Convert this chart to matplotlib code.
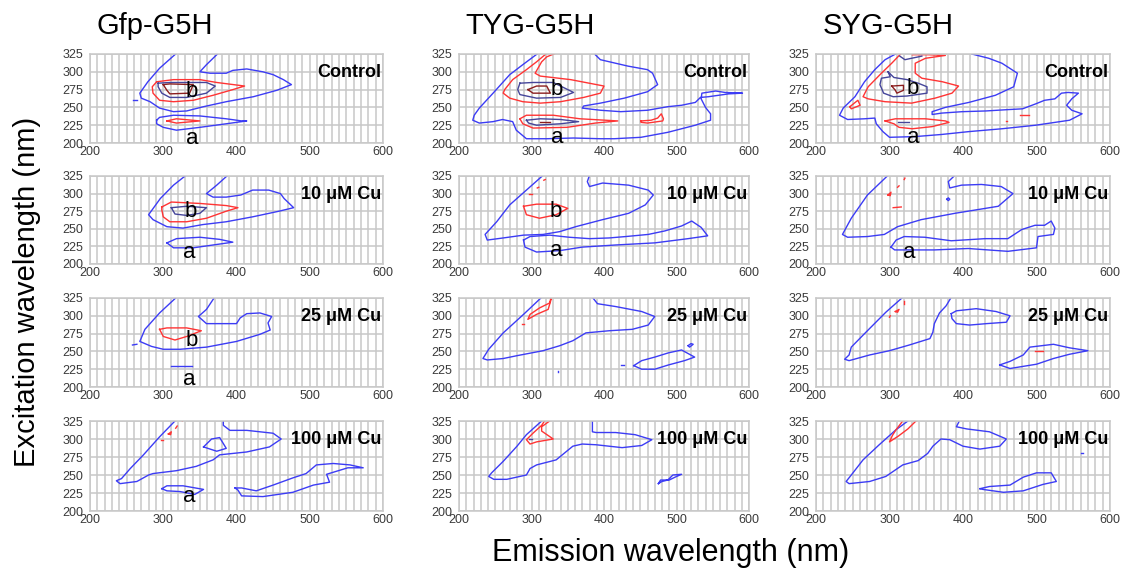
import matplotlib.pyplot as plt
from matplotlib.ticker import MultipleLocator

plt.rcParams['font.family'] = ['Liberation Sans', 'DejaVu Sans']

SAMPLES = ['Gfp-G5H', 'TYG-G5H', 'SYG-G5H']
TREATMENTS = ['Control', '10 μM Cu', '25 μM Cu', '100 μM Cu']

# contour traces as (emission nm, excitation nm)
# --- control ---
gfp_ctrl_outer = [(318, 326), (295, 305), (279, 286), (268, 270), (270, 263), (282, 258), (295, 249), (314, 244),
                  (332, 245), (355, 251), (386, 258), (423, 265), (455, 274), (475, 282), (464, 289), (450, 296),
                  (436, 300), (414, 304), (395, 302), (386, 298), (364, 298), (350, 300), (359, 310), (375, 326)]
gfp_ctrl_dash = [(259, 260), (264, 260)]
gfp_ctrl_b_red = [(291, 286), (314, 289), (350, 289), (373, 285), (411, 280), (395, 275), (368, 267), (341, 260),
                  (314, 258), (295, 260), (286, 270), (285, 279)]
gfp_ctrl_b_navy = [(293, 284), (309, 285), (359, 285), (371, 280), (359, 270), (332, 264), (309, 264), (298, 270),
                   (293, 279)]
gfp_ctrl_b_maroon = [(300, 282), (309, 283), (341, 282), (336, 270), (309, 269), (305, 274)]
gfp_ctrl_a_blue = [(291, 232), (295, 236), (314, 239), (350, 238), (386, 234), (407, 231), (414, 231), (407, 230),
                   (386, 227), (350, 222), (318, 218), (300, 222), (291, 227)]
gfp_ctrl_a_red = [(305, 231), (318, 234), (350, 231), (318, 228)]

tyg_ctrl_outer = [(309, 326), (288, 310), (270, 296), (247, 270), (228, 249), (221, 239), (219, 232), (228, 228),
                  (247, 230), (260, 233), (274, 230), (279, 218), (293, 206), (321, 206), (358, 207), (395, 206),
                  (414, 206), (451, 208), (488, 215), (526, 225), (547, 232), (547, 241), (540, 250), (534, 262),
                  (535, 270), (554, 273), (567, 271), (591, 270), (572, 269), (544, 265), (533, 264), (526, 257),
                  (507, 253), (488, 251), (460, 246), (423, 244), (395, 246), (370, 249), (372, 252), (395, 256),
                  (428, 263), (460, 272), (474, 282), (467, 298), (460, 303), (433, 308), (395, 317), (388, 324)]
tyg_ctrl_b_red = [(333, 326), (321, 321), (314, 314), (305, 298), (312, 294), (354, 289), (400, 280), (395, 270),
                  (372, 264), (340, 258), (312, 256), (288, 258), (270, 263), (261, 270), (263, 275), (274, 289),
                  (293, 303), (307, 314), (321, 326)]
tyg_ctrl_b_navy = [(284, 284), (302, 285), (330, 285), (358, 271), (340, 264), (307, 263), (284, 268), (281, 275)]
tyg_ctrl_b_maroon = [(295, 275), (307, 280), (321, 280), (326, 270), (302, 270)]
tyg_ctrl_a_red = [(284, 234), (293, 239), (330, 239), (367, 234), (419, 231), (388, 228), (349, 222), (302, 221),
                  (288, 227)]
tyg_ctrl_a_navy = [(293, 232), (312, 234), (340, 233), (365, 230), (340, 227), (307, 225), (296, 228)]
tyg_ctrl_a_maroon = [(312, 230), (326, 230)]
tyg_ctrl_side_red = [(451, 231), (465, 232), (474, 235), (479, 241), (482, 234), (481, 231), (460, 228), (451, 229)]

syg_ctrl_outer = [(310, 326), (294, 317), (280, 303), (266, 286), (253, 265), (237, 249), (232, 239), (243, 233),
                  (266, 234), (280, 235), (282, 227), (291, 216), (300, 208), (335, 209), (371, 212), (408, 216),
                  (453, 220), (499, 225), (545, 232), (562, 241), (548, 246), (541, 253), (548, 262), (557, 270),
                  (543, 271), (534, 270), (525, 262), (511, 260), (499, 255), (481, 248), (463, 247), (431, 245),
                  (399, 244), (371, 242), (358, 240), (358, 244), (376, 250), (408, 257), (444, 267), (469, 279),
                  (474, 298), (453, 312), (435, 319), (412, 325)]
syg_ctrl_b_red = [(316, 326), (303, 312), (289, 298), (271, 279), (264, 265), (271, 262), (294, 258), (330, 256),
                  (362, 263), (385, 270), (394, 280), (372, 286), (344, 291), (335, 298), (335, 312), (349, 319),
                  (376, 323), (353, 324), (331, 324)]
syg_ctrl_b_navy = [(298, 300), (301, 293), (289, 291), (287, 282), (292, 270), (305, 265), (324, 266), (351, 270),
                   (351, 279), (339, 284), (324, 289), (306, 292)]
syg_ctrl_top_navy = [(314, 322), (321, 317), (330, 319), (344, 322)]
syg_ctrl_b_maroon = [(303, 280), (319, 281), (319, 274), (310, 270), (308, 274)]
syg_ctrl_a_red = [(294, 231), (308, 234), (349, 234), (376, 231), (381, 229), (358, 223), (331, 220), (313, 222),
                  (306, 227)]
syg_ctrl_a_navy = [(311, 230), (327, 230)]
syg_ctrl_left_red = [(246, 251), (257, 260), (260, 253), (248, 248)]
syg_ctrl_right_red = [(478, 240), (490, 240)]
syg_ctrl_dot_red = [(458, 231), (460, 231)]

# --- 10 uM Cu ---
gfp_10_outer = [(331, 326), (314, 312), (296, 293), (280, 270), (286, 263), (305, 253), (327, 251), (354, 256),
                (386, 260), (422, 267), (458, 275), (478, 280), (472, 286), (465, 293), (460, 300), (444, 305),
                (422, 305), (406, 298), (386, 295), (368, 295), (359, 300), (373, 312), (388, 326)]
gfp_10_b_red = [(298, 281), (311, 288), (350, 286), (386, 283), (402, 280), (386, 275), (359, 265), (332, 260),
                (309, 260), (300, 267), (298, 277)]
gfp_10_b_navy = [(311, 280), (332, 282), (359, 280), (350, 272), (332, 269), (316, 271)]
gfp_10_a_blue = [(305, 230), (318, 236), (350, 238), (377, 235), (395, 231), (368, 227), (341, 223), (314, 223)]

tyg_10_outer = [(316, 326), (293, 305), (270, 284), (252, 260), (236, 242), (239, 234), (261, 237), (289, 241),
                (316, 242), (339, 246), (361, 253), (398, 263), (434, 272), (457, 284), (468, 298), (461, 305),
                (434, 312), (398, 315), (380, 310), (377, 317), (380, 326)]
tyg_10_a_blue = [(289, 234), (298, 239), (325, 241), (352, 238), (380, 236), (407, 237), (430, 239), (461, 242),
                 (484, 247), (507, 254), (521, 261), (534, 252), (543, 240), (516, 236), (470, 230), (416, 227),
                 (370, 224), (339, 219), (307, 217), (291, 224)]
tyg_10_b_red = [(289, 282), (307, 285), (334, 285), (350, 279), (334, 270), (311, 265), (293, 270)]
tyg_10_dot1 = [(297, 300), (300, 300)]
tyg_10_dot2 = [(308, 308), (310, 309)]
tyg_10_dot3 = [(317, 319), (319, 320)]

syg_10_outer = [(298, 326), (270, 298), (248, 265), (236, 242), (243, 238), (270, 239), (293, 242), (311, 253),
                (343, 263), (389, 272), (448, 282), (468, 300), (452, 310), (425, 313), (398, 312), (382, 308),
                (380, 317), (389, 326)]
syg_10_ring = [(378, 292), (380, 294), (382, 292), (380, 290)]
syg_10_a_blue = [(302, 224), (309, 234), (320, 239), (348, 238), (384, 233), (430, 236), (461, 236), (480, 249),
                 (498, 255), (511, 255), (520, 261), (525, 251), (523, 242), (502, 239), (500, 223), (461, 218),
                 (407, 222), (361, 220), (325, 220), (307, 220)]
syg_10_red1 = [(298, 298), (302, 302), (301, 297)]
syg_10_red2 = [(311, 309), (313, 311)]
syg_10_red3 = [(320, 320), (321, 322)]
syg_10_red4 = [(329, 326), (331, 327)]
syg_10_red5 = [(305, 280), (316, 281)]

# --- 25 uM Cu ---
gfp_25_outer = [(318, 326), (295, 304), (275, 281), (268, 264), (284, 257), (300, 253), (323, 253), (359, 256),
                (400, 264), (432, 274), (446, 280), (443, 290), (448, 299), (432, 304), (414, 303), (405, 297),
                (400, 289), (359, 289), (348, 299), (359, 309), (370, 326)]
gfp_25_dash = [(258, 259), (264, 260)]
gfp_25_b_red = [(295, 281), (305, 283), (332, 283), (352, 279), (332, 271), (316, 266), (300, 271)]
gfp_25_a_blue = [(311, 230), (339, 230)]

tyg_25_outer = [(314, 326), (289, 302), (261, 276), (241, 253), (233, 240), (239, 238), (261, 240), (280, 244),
                (316, 251), (339, 258), (357, 265), (375, 276), (407, 279), (439, 281), (461, 287), (470, 299),
                (452, 306), (416, 313), (391, 317), (384, 326)]
tyg_25_loop = [(441, 230), (452, 237), (470, 242), (489, 248), (507, 252), (525, 242), (511, 237), (489, 231),
               (470, 225), (452, 225)]
tyg_25_knot = [(516, 258), (520, 261), (523, 260), (518, 256)]
tyg_25_dash = [(424, 231), (428, 231)]
tyg_25_dot = [(336, 221), (336, 223)]
tyg_25_red = [(327, 326), (325, 318), (311, 311), (298, 302), (295, 295), (307, 302), (323, 309), (327, 323)]
tyg_25_red_dot = [(287, 289), (289, 289)]

syg_25_outer = [(318, 326), (295, 305), (268, 277), (248, 256), (245, 245), (239, 239), (245, 237), (273, 245),
                (300, 251), (327, 259), (355, 268), (359, 277), (361, 289), (368, 304), (377, 314), (384, 326)]
syg_25_loop = [(384, 303), (391, 307), (418, 310), (445, 306), (464, 300), (459, 291), (432, 289), (409, 287),
               (391, 289), (385, 296)]
syg_25_low = [(450, 231), (464, 236), (482, 245), (491, 256), (523, 260), (545, 255), (570, 251), (545, 246),
              (523, 240), (500, 232), (482, 229), (464, 226)]
syg_25_red1 = [(498, 250), (509, 250)]
syg_25_red2 = [(308, 306), (313, 309), (311, 305)]
syg_25_red3 = [(320, 317), (320, 321)]
syg_25_red4 = [(300, 298), (301, 300)]

# --- 100 uM Cu ---
gfp_100_outer = [(316, 325), (295, 303), (273, 278), (255, 259), (243, 245), (236, 242), (241, 238), (264, 241),
                 (280, 250), (286, 252), (318, 256), (345, 262), (368, 271), (377, 278), (414, 282), (445, 289),
                 (461, 300), (450, 308), (414, 312), (391, 312), (382, 319), (382, 325)]
gfp_100_loop = [(355, 289), (366, 300), (377, 302), (386, 287), (373, 283)]
gfp_100_low = [(398, 232), (407, 232), (427, 228), (450, 236), (477, 246), (495, 252), (509, 264), (532, 266),
               (555, 264), (573, 260), (552, 260), (523, 251), (527, 240), (505, 236), (477, 226), (436, 220),
               (407, 221), (402, 229)]
gfp_100_a = [(298, 231), (305, 235), (327, 235), (355, 230), (343, 223), (323, 227), (305, 228)]
gfp_100_red1 = [(297, 299), (300, 299)]
gfp_100_red2 = [(307, 307), (311, 310), (310, 306)]
gfp_100_red3 = [(317, 315), (319, 318)]
gfp_100_red4 = [(326, 325), (327, 326)]

tyg_100_outer = [(314, 325), (293, 306), (280, 290), (261, 269), (245, 253), (241, 248), (248, 244), (266, 244),
                 (293, 250), (298, 259), (307, 264), (334, 271), (357, 290), (370, 293), (389, 292), (425, 288),
                 (452, 291), (466, 299), (443, 306), (416, 309), (389, 309), (384, 310), (384, 324)]
tyg_100_red = [(325, 325), (314, 317), (314, 311), (330, 300), (307, 296), (298, 293), (293, 299), (302, 308),
               (314, 319), (318, 325)]
tyg_100_navy = [(297, 300), (300, 300)]
tyg_100_small = [(475, 238), (478, 243), (490, 243), (498, 247), (507, 251), (495, 250), (488, 243), (480, 241)]

syg_100_outer = [(325, 325), (309, 313), (286, 292), (264, 271), (248, 250), (241, 241), (245, 238), (273, 241),
                 (295, 248), (318, 264), (339, 270), (352, 280), (359, 290), (370, 300), (382, 299), (400, 290),
                 (423, 286), (450, 290), (459, 300), (436, 310), (405, 314), (391, 317), (395, 325)]
syg_100_low = [(423, 231), (436, 234), (464, 236), (482, 247), (500, 253), (520, 253), (527, 241), (509, 237),
               (482, 228), (455, 226), (427, 230)]
syg_100_dash = [(560, 280), (563, 280)]
syg_100_red = [(318, 325), (309, 313), (304, 305), (300, 296), (312, 304), (325, 314), (336, 325)]

COLORS = {'blue': '#3c3cf5', 'red': '#ff3434', 'navy': '#45459a', 'maroon': '#8b1e1e'}

# (trace, level colour, closed loop?) for every panel, rows = treatments, cols = samples
PANELS = [
    [
        [(gfp_ctrl_outer, 'blue', False), (gfp_ctrl_dash, 'blue', False), (gfp_ctrl_b_red, 'red', True),
         (gfp_ctrl_b_navy, 'navy', True), (gfp_ctrl_b_maroon, 'maroon', True), (gfp_ctrl_a_blue, 'blue', True),
         (gfp_ctrl_a_red, 'red', True)],
        [(tyg_ctrl_outer, 'blue', False), (tyg_ctrl_b_red, 'red', False), (tyg_ctrl_b_navy, 'navy', True),
         (tyg_ctrl_b_maroon, 'maroon', True), (tyg_ctrl_a_red, 'red', True), (tyg_ctrl_a_navy, 'navy', True),
         (tyg_ctrl_a_maroon, 'maroon', False), (tyg_ctrl_side_red, 'red', True)],
        [(syg_ctrl_outer, 'blue', False), (syg_ctrl_b_red, 'red', False), (syg_ctrl_b_navy, 'navy', True),
         (syg_ctrl_top_navy, 'navy', False), (syg_ctrl_b_maroon, 'maroon', True), (syg_ctrl_a_red, 'red', True),
         (syg_ctrl_a_navy, 'navy', False), (syg_ctrl_left_red, 'red', True), (syg_ctrl_right_red, 'red', False),
         (syg_ctrl_dot_red, 'red', False)],
    ],
    [
        [(gfp_10_outer, 'blue', False), (gfp_10_b_red, 'red', True), (gfp_10_b_navy, 'navy', True),
         (gfp_10_a_blue, 'blue', True)],
        [(tyg_10_outer, 'blue', False), (tyg_10_a_blue, 'blue', True), (tyg_10_b_red, 'red', True),
         (tyg_10_dot1, 'red', False), (tyg_10_dot2, 'red', False), (tyg_10_dot3, 'red', False)],
        [(syg_10_outer, 'blue', False), (syg_10_ring, 'blue', True), (syg_10_a_blue, 'blue', True),
         (syg_10_red1, 'red', True), (syg_10_red2, 'red', False), (syg_10_red3, 'red', False),
         (syg_10_red4, 'red', False), (syg_10_red5, 'red', False)],
    ],
    [
        [(gfp_25_outer, 'blue', False), (gfp_25_dash, 'blue', False), (gfp_25_b_red, 'red', True),
         (gfp_25_a_blue, 'blue', False)],
        [(tyg_25_outer, 'blue', False), (tyg_25_loop, 'blue', True), (tyg_25_knot, 'blue', True),
         (tyg_25_dash, 'blue', False), (tyg_25_dot, 'blue', False), (tyg_25_red, 'red', False),
         (tyg_25_red_dot, 'red', False)],
        [(syg_25_outer, 'blue', False), (syg_25_loop, 'blue', True), (syg_25_low, 'blue', True),
         (syg_25_red1, 'red', False), (syg_25_red2, 'red', True), (syg_25_red3, 'red', False),
         (syg_25_red4, 'red', False)],
    ],
    [
        [(gfp_100_outer, 'blue', False), (gfp_100_loop, 'blue', True), (gfp_100_low, 'blue', True),
         (gfp_100_a, 'blue', True), (gfp_100_red1, 'red', False), (gfp_100_red2, 'red', True),
         (gfp_100_red3, 'red', False), (gfp_100_red4, 'red', False)],
        [(tyg_100_outer, 'blue', False), (tyg_100_red, 'red', False), (tyg_100_navy, 'navy', False),
         (tyg_100_small, 'blue', True)],
        [(syg_100_outer, 'blue', False), (syg_100_low, 'blue', True), (syg_100_dash, 'blue', False),
         (syg_100_red, 'red', False)],
    ],
]

# peak letters (row, col) -> [(letter, em, ex)]
PEAK_LABELS = {
    (0, 0): [('b', 339, 272), ('a', 339, 207)],
    (0, 1): [('b', 335, 275), ('a', 335, 208)],
    (0, 2): [('b', 332, 277), ('a', 332, 208)],
    (1, 0): [('b', 338, 275), ('a', 336, 217)],
    (1, 1): [('b', 334, 275), ('a', 334, 219)],
    (1, 2): [('a', 327, 217)],
    (2, 0): [('b', 339, 266), ('a', 336, 210)],
    (3, 0): [('a', 336, 220)],
}

W, H = 1123, 572
COL_X = [(90, 383), (459, 749), (816, 1110)]
ROW_Y = [(54, 143), (176, 264), (298, 387), (421, 511)]

fig = plt.figure(figsize=(W / 100, H / 100), dpi=100)

for r, (top, bottom) in enumerate(ROW_Y):
    for c, (left, right) in enumerate(COL_X):
        ax = fig.add_axes([left / W, 1 - bottom / H, (right - left) / W, (bottom - top) / H])
        ax.set_xlim(200, 600)
        ax.set_ylim(200, 325)
        ax.xaxis.set_major_locator(MultipleLocator(100))
        ax.xaxis.set_minor_locator(MultipleLocator(10))
        ax.yaxis.set_major_locator(MultipleLocator(25))
        ax.grid(True, which='both', axis='x', color='#c8c8c8', lw=1.1)
        ax.grid(True, which='major', axis='y', color='#c8c8c8', lw=1.1)
        ax.set_axisbelow(True)
        ax.tick_params(which='both', length=0, labelsize=9, labelcolor='#3a3a3a')
        ax.tick_params(axis='x', pad=2)
        ax.tick_params(axis='y', pad=5)
        for s in ax.spines.values():
            s.set_color('#c8c8c8')
            s.set_linewidth(1.1)

        for trace, level, closed in PANELS[r][c]:
            pts = trace + [trace[0]] if closed else trace
            xs = [p[0] for p in pts]
            ys = [p[1] for p in pts]
            ax.plot(xs, ys, color=COLORS[level], lw=1.0, solid_joinstyle='round')

        for letter, em, ex in PEAK_LABELS.get((r, c), []):
            ax.text(em, ex, letter, fontsize=16, ha='center', va='center', color='black')

        ax.text(598, 299, TREATMENTS[r], fontsize=13, fontweight='bold', ha='right', va='center')

        if r == 0:
            fig.text(left / W + 0.006, 1 - 26 / H, SAMPLES[c], fontsize=21, ha='left', va='center')

fig.text(0.024, 0.49, 'Excitation wavelength (nm)', rotation=90, fontsize=21, ha='center', va='center')
fig.text(0.597, 0.033, 'Emission wavelength (nm)', fontsize=22, ha='center', va='center')

fig.savefig('out.png', dpi=100)
